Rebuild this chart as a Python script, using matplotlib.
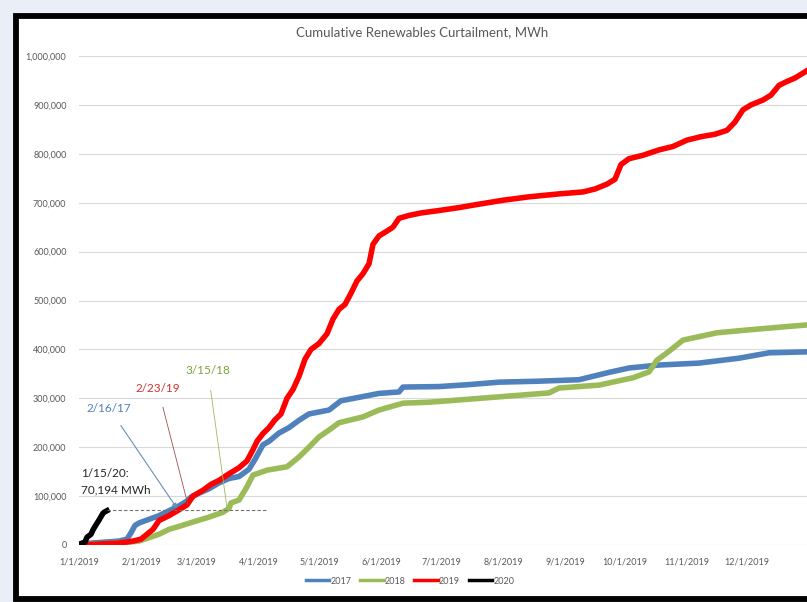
import matplotlib.pyplot as plt
import matplotlib.patches as patches

# day of year (0 = 1/1) and cumulative curtailment, MWh
days_2017 = [0, 10, 20, 24, 26, 28, 30, 34, 40, 45, 50, 54, 56, 60, 65, 70, 75, 80, 85, 88, 92, 95,
             100, 105, 110, 115, 120, 125, 131, 140, 150, 160, 162, 180, 195, 210, 230, 250, 256,
             265, 275, 290, 310, 330, 345, 364]
mwh_2017 = [2000, 5000, 8000, 12000, 25000, 40000, 45000, 51000, 60000, 70000, 80000, 90000, 98000,
            106000, 115000, 127000, 136000, 140000, 155000, 175000, 205000, 212000, 229000, 240000,
            255000, 268000, 272000, 276000, 295000, 302000, 310000, 313000, 323000, 324000, 328000,
            333000, 335000, 338000, 344000, 353000, 362000, 368000, 372000, 382000, 393000, 395000]

days_2018 = [0, 10, 20, 30, 35, 40, 45, 50, 57, 65, 72, 75, 76, 80, 84, 87, 94, 104, 110, 115, 120,
             125, 130, 142, 150, 162, 175, 185, 210, 235, 240, 260, 277, 285, 289, 294, 302, 319,
             335, 352, 364]
mwh_2018 = [0, 2000, 4000, 8000, 15000, 22000, 32000, 38000, 47000, 57000, 67000, 75000, 86000,
            92000, 119000, 143000, 153000, 160000, 180000, 200000, 221000, 235000, 250000, 262000,
            276000, 290000, 292000, 295000, 303000, 311000, 321000, 327000, 342000, 354000, 378000,
            393000, 419000, 434000, 440000, 446000, 450000]

days_2019 = [0, 10, 20, 27, 31, 34, 37, 40, 45, 50, 54, 57, 62, 66, 70, 74, 80, 84, 87, 89, 92, 95,
             98, 101, 104, 107, 110, 113, 116, 120, 124, 127, 130, 133, 136, 139, 142, 145, 147,
             150, 154, 157, 160, 165, 171, 180, 190, 200, 212, 225, 240, 252, 258, 264, 268, 271,
             275, 282, 290, 297, 304, 311, 318, 324, 328, 332, 336, 342, 346, 350, 354, 358, 364]
mwh_2019 = [0, 2000, 4000, 8000, 12000, 22000, 32000, 50000, 60000, 72000, 82000, 100000, 112000,
            124000, 132000, 143000, 158000, 172000, 195000, 212000, 228000, 240000, 256000, 268000,
            300000, 318000, 345000, 380000, 400000, 412000, 432000, 462000, 482000, 492000, 515000,
            540000, 555000, 575000, 615000, 632000, 642000, 650000, 668000, 674000, 679000, 684000,
            690000, 697000, 705000, 712000, 718000, 722000, 728000, 738000, 748000, 778000, 790000,
            797000, 808000, 815000, 828000, 835000, 840000, 848000, 865000, 890000, 900000, 910000,
            920000, 940000, 948000, 955000, 970000]

days_2020 = [0, 1, 3, 4, 6, 7, 8, 10, 11, 12, 13, 14]
mwh_2020 = [0, 3000, 6000, 16000, 22000, 31000, 38000, 51000, 58000, 65000, 68000, 70194]

month_days = [0, 31, 59, 90, 120, 151, 181, 212, 243, 273, 304, 334]
month_labels = ['1/1/2019', '2/1/2019', '3/1/2019', '4/1/2019', '5/1/2019', '6/1/2019',
                '7/1/2019', '8/1/2019', '9/1/2019', '10/1/2019', '11/1/2019', '12/1/2019']

plt.rcParams['font.family'] = ['Lato', 'DejaVu Sans']
grey = '#595959'

fig = plt.figure(figsize=(8.07, 6.02), dpi=100, facecolor='#eaeef6')
fig.patches.append(patches.Rectangle((15.5 / 807, 3.5 / 602), 2, 583 / 602,
                                     transform=fig.transFigure, facecolor='white',
                                     edgecolor='black', lw=4.2, zorder=-5))

ax = fig.add_axes([79 / 807, 57 / 602, 730 / 807, 489 / 602])
ax.set_facecolor('none')

lw = 4.0
ax.plot(days_2017, mwh_2017, color='#4f81bd', lw=lw, label='2017', solid_joinstyle='round')
ax.plot(days_2018, mwh_2018, color='#9bbb59', lw=lw, label='2018', solid_joinstyle='round')
ax.plot(days_2019, mwh_2019, color='#ff0000', lw=lw, label='2019', solid_joinstyle='round')
ax.plot(days_2020, mwh_2020, color='black', lw=lw, label='2020', solid_joinstyle='round')

ax.set_xlim(0, 365)
ax.set_ylim(0, 1000000)
ax.set_xticks(month_days)
ax.set_xticklabels(month_labels)
ax.set_yticks(range(0, 1000001, 100000))
ax.set_yticklabels([f'{v:,}' for v in range(0, 1000001, 100000)])
ax.tick_params(length=0, labelsize=6.5, colors=grey)
ax.tick_params(axis='y', pad=9)
ax.tick_params(axis='x', pad=9)
ax.grid(axis='y', color='#d9d9d9', lw=0.8)
ax.set_axisbelow(True)
for s in ax.spines.values():
    s.set_visible(False)

# annotation for latest 2020 value
ax.plot([14, 94], [71500, 71500], color='#707070', lw=0.8, ls=(0, (3, 2)))
ax.text(1, 147000, '1/15/20:', fontsize=8.5, color='#262626', va='center', ha='left')
ax.text(1, 112000, '70,194 MWh', fontsize=8.5, color='#262626', va='center', ha='left')

ax.annotate('2/16/17', xy=(49, 75000), xytext=(15, 280000), fontsize=8.5, color='#4f81bd',
            ha='center', va='center',
            arrowprops=dict(arrowstyle='-|>', color='#6a8fb8', lw=0.8, shrinkA=8, shrinkB=0,
                            mutation_scale=7))
ax.annotate('2/23/19', xy=(54.5, 82000), xytext=(39.5, 321000), fontsize=8.5, color='#d03030',
            ha='center', va='center',
            arrowprops=dict(arrowstyle='-', color='#a05050', lw=0.6, shrinkA=8, shrinkB=0))
ax.annotate('3/15/18', xy=(74, 76000), xytext=(64.5, 356000), fontsize=8.5, color='#7aa33a',
            ha='center', va='center',
            arrowprops=dict(arrowstyle='-', color='#9bbb59', lw=0.6, shrinkA=8, shrinkB=0))

fig.text(422 / 807, 1 - 32 / 602, 'Cumulative Renewables Curtailment, MWh', fontsize=9.5,
         color=grey, ha='center', va='center')

leg = fig.legend(loc='center', bbox_to_anchor=(410 / 807, 1 - 581 / 602), ncol=4, frameon=False,
                 fontsize=6.5, handlelength=2.6, handletextpad=0.1, columnspacing=1.0,
                 labelcolor=grey)
for h in leg.get_lines():
    h.set_linewidth(2.5)

fig.savefig('out.png', dpi=100, facecolor=fig.get_facecolor())
